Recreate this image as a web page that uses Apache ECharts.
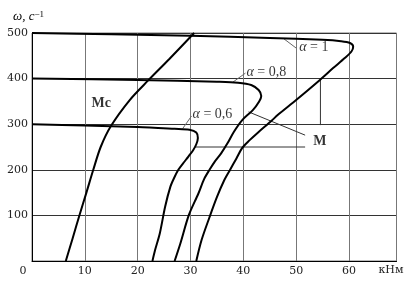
<!DOCTYPE html>
<html>
<head>
<meta charset="utf-8">
<script src="https://cdn.jsdelivr.net/npm/echarts@6/dist/echarts.min.js"></script>
<style>
  html, body { margin: 0; padding: 0; background: #fff; }
  #chart { width: 412px; height: 281px; }
</style>
</head>
<body>
<div id="chart"></div>
<script>
// curves, [torque kNm, omega 1/s]
const mcCurve = [[6.4, 0], [7.7, 50], [9, 101], [10.3, 150], [11.6, 200], [13, 250], [15, 297], [18.5, 353], [22, 396], [26, 443], [30.7, 500]]
const alpha1 = [[31.1, 0], [32.1, 46], [33.6, 96], [35, 140], [36.3, 175], [37.5, 200], [38.7, 225], [39.8, 248], [41.2, 265], [42.8, 282], [45.3, 307], [46.5, 320], [50, 353], [54.5, 397], [57, 423], [59.2, 445], [60.5, 460], [60.8, 470], [60.2, 478], [58.5, 482], [55, 485], [45, 489], [30, 494], [15, 497], [0, 500]]
const alpha08 = [[27, 0], [28.1, 39], [29.7, 101], [31.5, 148], [32.6, 180], [33.6, 200], [34.6, 218], [35.8, 236], [37, 258], [38.2, 283], [39.8, 309], [41.8, 331], [43, 350], [43.4, 362], [42.9, 375], [41.5, 386], [39, 391], [35, 393], [20, 397], [0, 400]]
const alpha06 = [[22.8, 0], [23.3, 24], [24.2, 61], [25.2, 119], [26.2, 163], [26.9, 182], [27.7, 200], [28.6, 214], [29.6, 229], [30.5, 243], [31.1, 256], [31.4, 270], [31.1, 282], [29.8, 288], [27, 290], [20, 294], [10, 297], [0, 300]]

// α labels and their leader lines
const alphaNames = ['1', '0,8', '0,6']
const alphaAnchors = [[50.4, 469], [40.4, 414], [30.2, 322]]
const alphaLeaders = [
  [[47.6, 488], [50, 467]],
  [[38, 392], [40.4, 412]],
  [[28.5, 290], [30.2, 318]]
]
// M label leaders
const mLeaders = [
  [[30.9, 250], [51.7, 250]],
  [[41, 327], [51.7, 276]],
  [[54.6, 397], [54.6, 298]]
]
const mcAnchor = [13.1, 346]
const mAnchor = [54.5, 263]

const serif = '"Liberation Serif", "DejaVu Serif", serif'
const tickFont = '"DejaVu Serif", serif'

let chart = echarts.init(document.getElementById('chart'))

function curve (name, pts) {
  return {
    name: name,
    type: 'line',
    data: pts,
    showSymbol: false,
    smooth: 0.3,
    lineStyle: { color: '#000', width: 2 },
    z: 4
  }
}

function leader (pts, color) {
  return {
    type: 'line',
    data: pts,
    showSymbol: false,
    lineStyle: { color: color, width: 1 },
    z: 3
  }
}

let labelData = alphaAnchors.map((p, i) => ({
  value: p,
  label: { position: 'right', distance: 1, formatter: '{i|α} = ' + alphaNames[i] }
}))
labelData.push({ value: mcAnchor, label: { position: 'inside', formatter: 'Mc', fontWeight: 'bold' } })
labelData.push({ value: mAnchor, label: { position: 'inside', formatter: 'M', fontWeight: 'bold' } })

let series = [
  curve('Mc', mcCurve),
  curve('α = 1', alpha1),
  curve('α = 0,8', alpha08),
  curve('α = 0,6', alpha06)
]
alphaLeaders.forEach(l => series.push(leader(l, '#666')))
mLeaders.forEach(l => series.push(leader(l, '#333')))
series.push({
  type: 'scatter',
  symbolSize: 0,
  itemStyle: { color: 'transparent' },
  z: 6,
  data: labelData,
  label: {
    show: true,
    color: '#000',
    fontFamily: serif,
    fontSize: 14,
    rich: { i: { fontFamily: serif, fontSize: 14, fontStyle: 'italic', color: '#000' } }
  }
})

let option = {
  animation: false,
  backgroundColor: '#fff',
  grid: {
    left: 32, right: 15.5, top: 33, bottom: 20,
    show: true, borderColor: '#777', borderWidth: 1,
    outerBoundsMode: 'none'
  },
  xAxis: {
    type: 'value',
    min: 0,
    max: 69,
    interval: 10,
    name: 'кНм',
    nameLocation: 'end',
    nameGap: 7,
    nameMoveOverlap: false,
    nameTextStyle: { fontFamily: tickFont, fontSize: 11, color: '#222', align: 'right', verticalAlign: 'top', padding: [4, 0, 0, 0] },
    axisLine: { show: true, lineStyle: { color: '#000', width: 1 } },
    axisTick: { show: false },
    splitLine: { show: true, lineStyle: { color: '#777', width: 1 } },
    axisLabel: {
      fontFamily: tickFont, fontSize: 11, color: '#222', margin: 5,
      showMaxLabel: false,
      formatter: v => v === 0 ? '{o|0}' : String(v),
      rich: { o: { fontFamily: tickFont, fontSize: 11, color: '#222', padding: [0, 18, 0, 0] } }
    }
  },
  yAxis: {
    type: 'value',
    min: 0,
    max: 500,
    interval: 100,
    name: '{w|ω, c}{s|−1}',
    nameLocation: 'end',
    nameGap: 10,
    nameTextStyle: {
      padding: [0, 7, 0, 0],
      rich: {
        w: { fontFamily: serif, fontSize: 13, fontStyle: 'italic', color: '#000' },
        s: { fontFamily: serif, fontSize: 9, color: '#000', verticalAlign: 'top' }
      }
    },
    axisLine: { show: true, lineStyle: { color: '#000', width: 1 } },
    axisTick: { show: false },
    splitLine: { show: true, lineStyle: { color: '#333', width: 1 } },
    axisLabel: {
      fontFamily: tickFont, fontSize: 11, color: '#222', margin: 4,
      formatter: v => v === 0 ? '' : String(v)
    }
  },
  series: series
}

chart.setOption(option)
</script>
</body>
</html>
